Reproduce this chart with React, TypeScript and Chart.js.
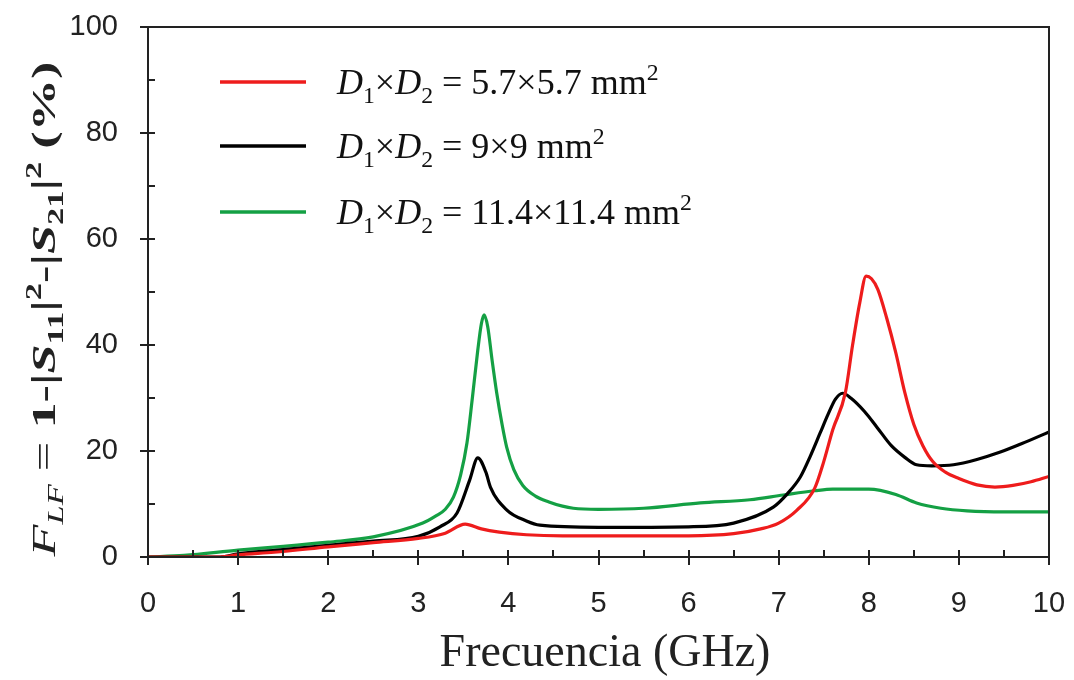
import { useEffect, useRef } from "react";
import { Chart, registerables } from "chart.js";

Chart.register(...registerables);

// ---- Data ----
const freqRed = [0, 0.8, 1.0, 1.4, 2.0, 2.5, 3.0, 3.3, 3.52, 3.7, 3.9, 4.2, 4.6, 5.0, 6.0, 6.5, 6.8, 7.0, 7.2, 7.4, 7.5, 7.6, 7.74, 7.82, 7.9, 7.97, 8.03, 8.1, 8.2, 8.3, 8.4, 8.5, 8.6, 8.71, 8.85, 9.0, 9.2, 9.4, 9.6, 9.8, 10];
const valRed = [0, 0, 0.4, 0.9, 1.9, 2.7, 3.5, 4.5, 6.2, 5.3, 4.7, 4.2, 4.0, 4.0, 4.0, 4.4, 5.3, 6.4, 8.8, 13, 18, 24, 31, 40, 48, 53, 52.5, 50.5, 45, 38.5, 31, 25, 21, 18, 16, 14.8, 13.6, 13.2, 13.5, 14.2, 15.2];

const freqBlack = [0, 0.8, 1.0, 1.5, 2.0, 2.5, 3.0, 3.24, 3.43, 3.57, 3.66, 3.75, 3.8, 3.98, 4.2, 4.35, 5.0, 6.0, 6.5, 6.94, 7.1, 7.24, 7.35, 7.46, 7.55, 7.63, 7.71, 7.8, 7.95, 8.09, 8.25, 8.4, 8.53, 8.7, 8.94, 9.2, 9.46, 9.7, 10];
const valBlack = [0, 0, 0.6, 1.4, 2.2, 3.0, 3.9, 5.7, 8.3, 14.5, 18.7, 16, 13.2, 8.9, 6.8, 6.0, 5.6, 5.7, 6.4, 9.4, 12, 15.1, 19, 23.4, 27, 29.8, 30.9, 30, 27.5, 24.5, 21, 18.8, 17.4, 17.2, 17.4, 18.4, 19.8, 21.4, 23.6];

const freqGreen = [0, 0.4, 1.0, 1.5, 2.0, 2.5, 3.05, 3.2, 3.3, 3.39, 3.47, 3.54, 3.6, 3.66, 3.7, 3.73, 3.77, 3.82, 3.87, 3.93, 3.98, 4.06, 4.16, 4.3, 4.45, 4.6, 4.72, 5.0, 5.5, 6.13, 6.68, 7.05, 7.4, 7.6, 8.0, 8.3, 8.53, 8.8, 9.09, 9.5, 10];
const valGreen = [0, 0.3, 1.3, 2.0, 2.8, 3.8, 6.4, 7.8, 9.0, 11.3, 15.5, 21.5, 30, 39, 44, 45.7, 43.5, 37, 31, 25, 20.8, 16.5, 13.5, 11.5, 10.4, 9.6, 9.2, 9.0, 9.2, 10.2, 10.8, 11.7, 12.5, 12.8, 12.8, 11.8, 10.2, 9.2, 8.7, 8.5, 8.5];

const seriesSizes = ["5.7×5.7", "9×9", "11.4×11.4"];
const seriesColors = ["#ee1c1c", "#000000", "#14a044"];

const xMin = 0, xMax = 10, xStep = 1, xMinorStep = 0.5;
const yMin = 0, yMax = 100, yStep = 20, yMinorStep = 10;

const xTitle = "Frecuencia (GHz)";

type Seg = { t: string; it?: boolean; b?: boolean; s?: "sub" | "sup" };

const yTitleSegs: Seg[] = [
  { t: "F", it: true },
  { t: "LF", it: true, s: "sub" },
  { t: " = " },
  { t: "1-|", b: true },
  { t: "S", b: true, it: true },
  { t: "11", b: true, s: "sub" },
  { t: "|", b: true },
  { t: "2", b: true, s: "sup" },
  { t: "-|", b: true },
  { t: "S", b: true, it: true },
  { t: "21", b: true, s: "sub" },
  { t: "|", b: true },
  { t: "2", b: true, s: "sup" },
  { t: " (%)", b: true },
];

function legendSegs(size: string): Seg[] {
  return [
    { t: "D", it: true },
    { t: "1", s: "sub" },
    { t: "×" },
    { t: "D", it: true },
    { t: "2", s: "sub" },
    { t: " = " + size + " mm" },
    { t: "2", s: "sup" },
  ];
}

const SERIF = '"Liberation Serif", "Times New Roman", serif';
const SANS = '"Liberation Sans", Arial, sans-serif';

function segFont(seg: Seg, size: number) {
  const sz = seg.s ? size * 0.66 : size;
  return `${seg.it ? "italic " : ""}${seg.b ? "bold " : ""}${sz}px ${SERIF}`;
}

function measureRich(ctx: CanvasRenderingContext2D, segs: Seg[], size: number) {
  return segs.map((seg) => {
    ctx.font = segFont(seg, size);
    return ctx.measureText(seg.t).width;
  });
}

function drawRich(ctx: CanvasRenderingContext2D, segs: Seg[], x: number, y: number, size: number, color: string) {
  const widths = measureRich(ctx, segs, size);
  let cx = x;
  ctx.fillStyle = color;
  ctx.textAlign = "left";
  ctx.textBaseline = "alphabetic";
  segs.forEach((seg, i) => {
    ctx.font = segFont(seg, size);
    const dy = seg.s === "sub" ? size * 0.24 : seg.s === "sup" ? -size * 0.4 : 0;
    ctx.fillText(seg.t, cx, y + dy);
    cx += widths[i];
  });
}

const decorPlugin = {
  id: "decor",
  afterDraw(chart: any) {
    const { ctx, chartArea } = chart;
    const xs = chart.scales.x;
    const ys = chart.scales.y;
    const { left, right, top, bottom } = chartArea;
    ctx.save();
    // frame
    ctx.strokeStyle = "#222";
    ctx.lineWidth = 2;
    ctx.strokeRect(left, top, right - left, bottom - top);
    // x ticks
    for (let v = xMin; v <= xMax + 1e-9; v += xMinorStep) {
      const px = Math.round(xs.getPixelForValue(v));
      const major = Math.abs(v - Math.round(v / xStep) * xStep) < 1e-6;
      ctx.beginPath();
      ctx.moveTo(px, bottom - 7);
      ctx.lineTo(px, major ? bottom + 8 : bottom);
      ctx.stroke();
    }
    // y ticks
    for (let v = yMin; v <= yMax + 1e-9; v += yMinorStep) {
      const py = Math.round(ys.getPixelForValue(v));
      const major = Math.abs(v - Math.round(v / yStep) * yStep) < 1e-6;
      ctx.beginPath();
      ctx.moveTo(major ? left - 8 : left, py);
      ctx.lineTo(left + 7, py);
      ctx.stroke();
    }
    // legend
    const legX0 = 220, legX1 = 306, legTextX = 337;
    const legY = [82, 146, 212];
    chart.data.datasets.forEach((ds: any, i: number) => {
      ctx.strokeStyle = ds.borderColor;
      ctx.lineWidth = 3.5;
      ctx.beginPath();
      ctx.moveTo(legX0, legY[i]);
      ctx.lineTo(legX1, legY[i]);
      ctx.stroke();
      drawRich(ctx, legendSegs(seriesSizes[i]), legTextX, legY[i] + 12, 36, "#111");
    });
    // x title
    ctx.fillStyle = "#222";
    ctx.font = `46px ${SERIF}`;
    ctx.textAlign = "center";
    ctx.textBaseline = "alphabetic";
    ctx.fillText(xTitle, 605, 666);
    // y title (rotated)
    const ySize = 34;
    const widths = measureRich(ctx, yTitleSegs, ySize);
    const total = widths.reduce((a, b) => a + b, 0);
    const target = 495;
    const stretch = target / total;
    ctx.translate(55, 309);
    ctx.rotate(-Math.PI / 2);
    ctx.scale(stretch, 1);
    drawRich(ctx, yTitleSegs, -total / 2, 0, ySize, "#222");
    ctx.restore();
  },
};

export default function App() {
  const ref = useRef<HTMLCanvasElement | null>(null);
  useEffect(() => {
    if (!ref.current) return;
    const mk = (xs: number[], vs: number[]) => xs.map((x, i) => ({ x, y: vs[i] }));
    const chart = new Chart(ref.current, {
      type: "line",
      data: {
        datasets: [
          { label: seriesSizes[0], data: mk(freqRed, valRed), borderColor: seriesColors[0] },
          { label: seriesSizes[1], data: mk(freqBlack, valBlack), borderColor: seriesColors[1] },
          { label: seriesSizes[2], data: mk(freqGreen, valGreen), borderColor: seriesColors[2] },
        ].map((d) => ({
          ...d,
          borderWidth: 3.2,
          pointRadius: 0,
          fill: false,
          cubicInterpolationMode: "monotone" as const,
        })),
      },
      options: {
        responsive: false,
        animation: false,
        layout: { padding: { left: 0, top: 27, right: 25, bottom: 0 } },
        plugins: { legend: { display: false }, tooltip: { enabled: false } },
        scales: {
          x: {
            type: "linear",
            min: xMin,
            max: xMax,
            grid: { display: false, drawTicks: false },
            border: { display: false },
            ticks: { stepSize: xStep, padding: 30, color: "#222", font: { family: SANS, size: 29 } },
            afterFit: (s: any) => { s.height = 123; s.paddingLeft = 0; s.paddingRight = 0; },
          },
          y: {
            min: yMin,
            max: yMax,
            grid: { display: false, drawTicks: false },
            border: { display: false },
            ticks: { stepSize: yStep, padding: 30, color: "#222", font: { family: SANS, size: 29 } },
            afterFit: (s: any) => { s.width = 148; s.paddingTop = 0; s.paddingBottom = 0; },
          },
        },
      },
      plugins: [decorPlugin],
    });
    return () => chart.destroy();
  }, []);
  return (
    <div style={{ position: "fixed", left: 0, top: 0, width: 1074, height: 680, background: "#fff" }}>
      <canvas ref={ref} width={1074} height={680} style={{ display: "block" }} />
    </div>
  );
}
